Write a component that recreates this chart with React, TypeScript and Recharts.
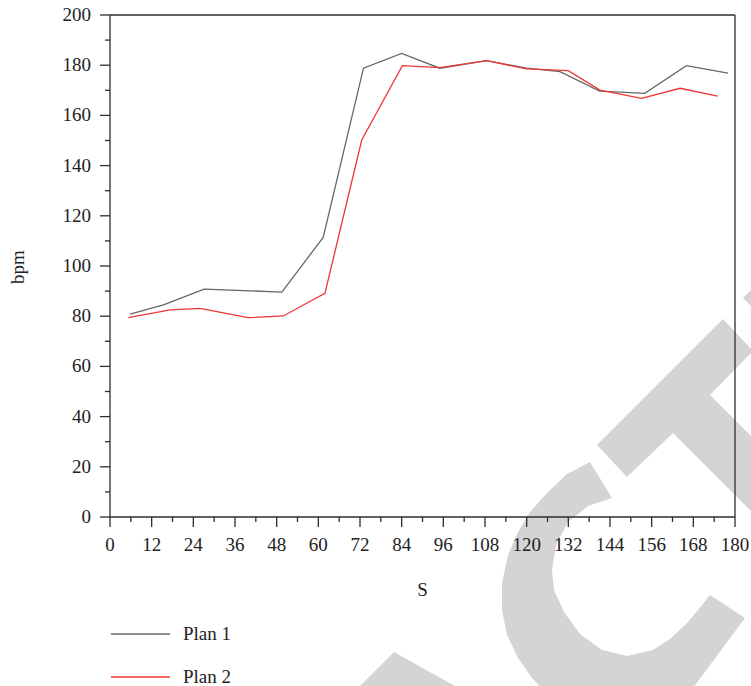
import { Line, LineChart, ReferenceLine, XAxis, YAxis } from 'recharts'

const PLAN1_X = [5.8, 15.4, 27.1, 38.5, 49.5, 61.4, 73, 84, 95, 108.5, 120, 129.6, 141, 154, 166, 178]
const PLAN1_Y = [80.8, 84.5, 90.8, 90.2, 89.6, 111.4, 178.8, 184.7, 178.8, 181.8, 178.8, 177.4, 169.7, 168.8, 179.8, 176.8]

const PLAN2_X = [5.3, 17.3, 25.9, 39.8, 49.9, 61.9, 72.5, 84.2, 95, 108.5, 120, 132, 141.1, 153.1, 164.2, 175]
const PLAN2_Y = [79.4, 82.5, 83.1, 79.4, 80.1, 89.1, 150.2, 179.8, 179, 181.8, 178.5, 177.8, 170.1, 166.8, 170.8, 167.7]

const X_TICKS = [0, 6, 12, 18, 24, 30, 36, 42, 48, 54, 60, 66, 72, 78, 84, 90, 96, 102, 108, 114, 120, 126, 132, 138, 144, 150, 156, 162, 168, 174, 180]
const Y_TICKS = [0, 10, 20, 30, 40, 50, 60, 70, 80, 90, 100, 110, 120, 130, 140, 150, 160, 170, 180, 190, 200]

const SERIES = [
  { key: 'plan1', label: 'Plan 1', color: '#676767', xs: PLAN1_X, ys: PLAN1_Y },
  { key: 'plan2', label: 'Plan 2', color: '#ef3535', xs: PLAN2_X, ys: PLAN2_Y },
]

const FONT = '"Liberation Serif", "Times New Roman", serif'
const FONT_SIZE = 19
const INK = '#222'
const AXIS = '#2e2e2e'
const WATERMARK = '#d4d4d4'

// "RETRACTED" stamp fragments behind the chart (page pixels)
const STAMP = [
  '590,462 567,474 547,493 530,512 518,532 508,555 502,583 502,610 507,635 518,658 532,678 545,692 690,692 745,618 710,595 698,610 687,623 670,639 653,650 627,656 602,650 580,634 564,612 554,590 552,570 556,545 568,522 588,506 612,498',
  '597,445 723,319 753,351 710,395 800,485 800,560 673,433 627,477',
  '743,298 752,289 752,307',
  '394,652 462,690 356,690',
]

function XTick({ x, y, payload }: any) {
  const v = payload.value as number
  const major = v % 12 === 0
  return (
    <g>
      <line x1={x} x2={x} y1={y} y2={y + (major ? 10 : 5)} stroke={AXIS} strokeWidth={1.3} />
      {major && (
        <text x={x} y={y + 34} textAnchor="middle" fill={INK} fontFamily={FONT} fontSize={FONT_SIZE}>
          {v}
        </text>
      )}
    </g>
  )
}

function YTick({ x, y, payload }: any) {
  const v = payload.value as number
  const major = v % 20 === 0
  return (
    <g>
      <line x1={x} x2={x - (major ? 10 : 5)} y1={y} y2={y} stroke={AXIS} strokeWidth={1.3} />
      {major && (
        <text x={x - 19} y={y + 6} textAnchor="end" fill={INK} fontFamily={FONT} fontSize={FONT_SIZE}>
          {v}
        </text>
      )}
    </g>
  )
}

export default function App() {
  return (
    <div style={{ position: 'absolute', left: 0, top: 0, width: 751, height: 686, background: '#fff' }}>
      <svg width={751} height={686} style={{ position: 'absolute', left: 0, top: 0 }}>
        {STAMP.map((pts, i) => (
          <polygon key={i} points={pts} fill={WATERMARK} />
        ))}
      </svg>

      <div style={{ position: 'absolute', left: 0, top: 0 }}>
        <LineChart width={751} height={686} margin={{ top: 15, right: 16, bottom: 139, left: 50 }}>
          <XAxis
            type="number"
            dataKey="x"
            domain={[0, 180]}
            ticks={X_TICKS}
            interval={0}
            tickSize={0}
            tickMargin={0}
            tick={<XTick />}
            height={30}
            axisLine={{ stroke: AXIS, strokeWidth: 1.3 }}
            allowDuplicatedCategory={false}
            label={{
              content: () => (
                <text x={422.5} y={596} textAnchor="middle" fill={INK} fontFamily={FONT} fontSize={FONT_SIZE}>
                  S
                </text>
              ),
            }}
          />
          <YAxis
            type="number"
            domain={[0, 200]}
            ticks={Y_TICKS}
            interval={0}
            tickSize={0}
            tickMargin={0}
            tick={<YTick />}
            width={60}
            axisLine={{ stroke: AXIS, strokeWidth: 1.3 }}
            label={{
              content: () => (
                <text
                  x={24}
                  y={267}
                  transform="rotate(-90 24 267)"
                  textAnchor="middle"
                  fill={INK}
                  fontFamily={FONT}
                  fontSize={FONT_SIZE}
                >
                  bpm
                </text>
              ),
            }}
          />
          <ReferenceLine y={200} stroke={AXIS} strokeWidth={1.3} />
          <ReferenceLine x={180} stroke={AXIS} strokeWidth={1.3} />
          {SERIES.map((s) => (
            <Line
              key={s.key}
              data={s.xs.map((x, i) => ({ x, y: s.ys[i] }))}
              dataKey="y"
              name={s.label}
              type="linear"
              stroke={s.color}
              strokeWidth={1.3}
              dot={false}
              activeDot={false}
              isAnimationActive={false}
            />
          ))}
        </LineChart>
      </div>

      <div style={{ position: 'absolute', left: 111, top: 624, fontFamily: FONT, fontSize: FONT_SIZE, color: INK }}>
        {SERIES.map((s, i) => (
          <div
            key={s.key}
            style={{ display: 'flex', alignItems: 'center', height: 20, marginTop: i === 0 ? 0 : 23 }}
          >
            <svg width={59} height={4} style={{ display: 'block' }}>
              <line x1={0} x2={59} y1={2} y2={2} stroke={s.color} strokeWidth={1.4} />
            </svg>
            <span style={{ marginLeft: 13, lineHeight: '20px' }}>{s.label}</span>
          </div>
        ))}
      </div>
    </div>
  )
}
